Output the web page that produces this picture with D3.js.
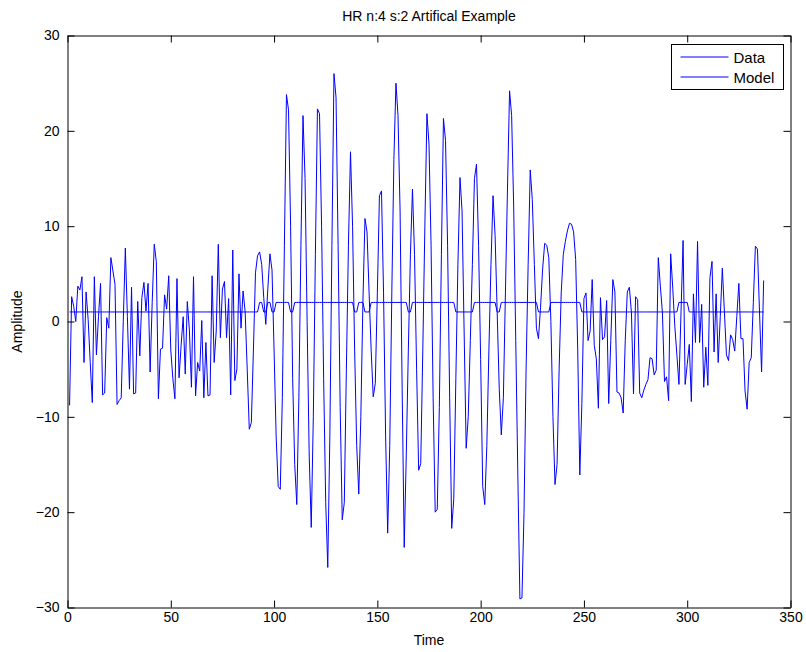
<!DOCTYPE html>
<html>
<head>
<meta charset="utf-8">
<script src="https://cdn.jsdelivr.net/npm/d3@7"></script>
<style>
  body { margin: 0; background: #fff; }
  text { font-family: 'Liberation Sans', Arial, Helvetica, sans-serif; }
</style>
</head>
<body>
<div id="chart"></div>
<script>
const width = 806;
const height = 652;
const margin = {left: 67.5, right: 15.5, top: 35.5, bottom: 44.5};

const chartTitle = 'HR n:4 s:2 Artifical Example';
const xLabel = 'Time';
const yLabel = 'Amplitude';
const seriesNames = ['Data', 'Model'];

const xTicks = [0, 50, 100, 150, 200, 250, 300, 350];
const yTicks = [-30, -20, -10, 0, 10, 20, 30];

// observed signal, one value per sample (samples 1..337)
const dataValues = [
  -8.8, 2.6, 1.6, 0.0, 3.7, 3.3, 4.7, -4.3, 3.1, 0.2,
  -4.3, -8.5, 4.7, -3.5, 0.5, 4.0, -7.7, -7.5, 0.4, -0.7,
  6.7, 5.3, 3.9, -8.7, -8.3, -8.0, 0.0, 7.7, 0.5, -7.1,
  3.6, -7.6, -7.5, 2.1, -3.6, 2.5, 4.1, 1.1, 4.0, -5.3,
  2.0, 8.1, 6.3, -8.1, -2.9, -2.8, 2.8, 1.3, 4.8, -3.0,
  -6.0, -8.1, 4.5, -5.9, -2.5, 0.5, -5.5, 2.1, -0.9, -6.9,
  4.7, -7.8, -4.3, -5.2, 0.1, -8.0, -2.2, -7.8, -7.7, 4.8,
  -4.3, -1.0, 8.1, -1.7, 3.4, 4.2, -1.7, 2.4, -7.7, 7.5,
  -6.2, -5.0, 5.0, -0.7, 3.2, 1.0, -5.0, -11.3, -10.6, -3.0,
  5.1, 6.9, 7.3, 6.0, 2.5, -0.3, 3.5, 7.1, 5.4, -3.0,
  -12.0, -17.3, -17.6, -8.0, 8.0, 23.8, 22.2, 10.0, -6.0, -15.0,
  -19.2, -8.0, 8.0, 21.6, 15.0, 0.0, -14.0, -21.6, -10.0, 7.0,
  22.3, 21.8, 10.0, -6.0, -19.0, -25.8, -12.0, 8.0, 26.0, 23.5,
  8.0, -9.0, -20.8, -19.0, -5.0, 8.0, 17.8, 10.0, -3.0, -13.0,
  -18.1, -10.0, 2.0, 10.8, 9.4, 3.0, -3.0, -7.9, -6.5, 3.0,
  13.2, 13.7, 3.0, -12.0, -22.2, -13.0, 3.0, 17.0, 25.0, 21.6,
  11.6, -7.0, -23.7, -14.0, -3.0, 7.0, 13.9, 7.0, -5.0, -15.6,
  -14.9, -3.0, 10.0, 21.8, 18.6, 8.0, -8.0, -20.0, -19.7, -9.0,
  7.0, 21.3, 19.0, 8.0, -8.0, -21.7, -18.6, -6.0, 6.0, 15.1,
  11.6, -1.0, -13.3, -10.0, -2.0, 6.0, 15.0, 16.5, 8.0, -4.0,
  -17.3, -19.2, -13.0, -3.0, 6.0, 13.2, 9.0, 1.0, -7.0, -11.9,
  -8.0, 3.0, 14.0, 24.2, 21.6, 12.0, -2.0, -16.0, -29.1, -29.0,
  -20.0, -5.0, 6.0, 15.9, 12.8, 6.0, -0.7, -1.8, 1.5, 5.5,
  8.2, 8.0, 6.7, 0.0, -10.0, -17.1, -15.0, -5.0, 3.0, 7.0,
  8.4, 9.5, 10.3, 10.2, 9.4, 6.5, -3.0, -16.1, -8.6, 2.4,
  3.0, -2.0, -1.0, 4.4, -2.5, -3.9, -9.1, 2.5, -1.9, -1.6,
  2.2, -8.6, -2.0, 4.4, 3.1, -7.4, -7.5, -8.0, -9.6, -2.0,
  3.1, 3.6, 0.9, -7.6, 2.6, 2.3, -7.5, -8.0, -7.2, -6.6,
  -6.1, -3.8, -3.9, -5.6, -5.1, 6.7, 3.7, 0.9, -6.3, -5.8,
  -8.3, 7.1, 3.5, -0.5, -3.5, -6.6, 1.0, 8.5, -6.6, -4.5,
  -2.4, -8.4, 2.9, -2.2, 8.4, -2.2, 1.8, -6.9, -2.7, -6.7,
  4.6, 6.3, -3.2, 2.9, -4.3, 0.5, 5.6, 1.0, -3.5, -4.1,
  -1.4, -1.9, -3.1, 0.5, 4.0, -1.8, -1.8, -7.3, -9.2, -4.3,
  -3.8, 2.0, 7.9, 7.6, 1.0, -5.3, 4.3
];

// model state as runs: level held for that many samples
const modelLevels = [1, 2, 1, 2, 1, 2, 1, 2, 1, 2, 1, 2, 1, 2, 1, 2, 1, 2, 1, 2, 1, 2, 1];
const modelRunLengths = [92, 2, 2, 2, 2, 7, 2, 29, 2, 3, 3, 18, 2, 21, 9, 11, 2, 18, 6, 15, 47, 5, 37];

const lineColor = '#0000ff';
const tickLength = 7;
const fontSize = '14px';

function buildModel() {
  let values = [];
  modelLevels.forEach(function(level, i) {
    for (let k = 0; k < modelRunLengths[i]; k++) values.push(level);
  });
  return values;
}

function drawChart() {
  const modelValues = buildModel();
  const data = dataValues.map(function(v, i) { return {t: i + 1, v: v}; });
  const model = modelValues.map(function(v, i) { return {t: i + 1, v: v}; });

  const svg = d3.select('#chart')
    .append('svg')
    .attr('width', width)
    .attr('height', height);

  svg.append('rect')
    .attr('width', width)
    .attr('height', height)
    .attr('fill', '#fff');

  const x = d3.scaleLinear()
    .domain([0, 350])
    .range([margin.left, width - margin.right]);

  const y = d3.scaleLinear()
    .domain([-30, 30])
    .range([height - margin.bottom, margin.top]);

  // plot lines
  const line = d3.line()
    .x(function(d) { return x(d.t); })
    .y(function(d) { return y(d.v); });

  const plot = svg.append('g');

  plot.append('path')
    .datum(data)
    .attr('fill', 'none')
    .attr('stroke', lineColor)
    .attr('stroke-width', 1)
    .attr('d', line);

  plot.append('path')
    .datum(model)
    .attr('fill', 'none')
    .attr('stroke', lineColor)
    .attr('stroke-width', 1)
    .attr('d', line);

  // axes, ticks point inwards like matlab
  const bottom = svg.append('g')
    .attr('transform', 'translate(0,' + (height - margin.bottom) + ')')
    .call(d3.axisBottom(x).tickValues(xTicks).tickSizeInner(-tickLength).tickSizeOuter(0).tickPadding(5));

  const left = svg.append('g')
    .attr('transform', 'translate(' + margin.left + ',0)')
    .call(d3.axisLeft(y).tickValues(yTicks).tickSizeInner(-tickLength).tickSizeOuter(0).tickPadding(8));

  const top = svg.append('g')
    .attr('transform', 'translate(0,' + margin.top + ')')
    .call(d3.axisTop(x).tickValues(xTicks).tickSizeInner(-tickLength).tickSizeOuter(0).tickFormat(''));

  const right = svg.append('g')
    .attr('transform', 'translate(' + (width - margin.right) + ',0)')
    .call(d3.axisRight(y).tickValues(yTicks).tickSizeInner(-tickLength).tickSizeOuter(0).tickFormat(''));

  [bottom, left, top, right].forEach(function(g) {
    g.selectAll('path, line').attr('stroke', '#000');
    g.selectAll('text')
      .attr('fill', '#000')
      .style('font-size', fontSize);
  });

  // labels
  const cx = (margin.left + width - margin.right) / 2;

  svg.append('text')
    .attr('x', cx)
    .attr('y', 21)
    .attr('text-anchor', 'middle')
    .style('font-size', fontSize)
    .text(chartTitle);

  svg.append('text')
    .attr('x', cx)
    .attr('y', 645)
    .attr('text-anchor', 'middle')
    .style('font-size', fontSize)
    .text(xLabel);

  svg.append('text')
    .attr('transform', 'translate(22,' + y(0) + ') rotate(-90)')
    .attr('text-anchor', 'middle')
    .style('font-size', fontSize)
    .text(yLabel);

  // legend
  const legend = svg.append('g')
    .attr('transform', 'translate(671.5,44.5)');

  legend.append('rect')
    .attr('width', 112)
    .attr('height', 45)
    .attr('fill', '#fff')
    .attr('stroke', '#000');

  const item = legend.selectAll('.item')
    .data(seriesNames)
    .enter()
    .append('g')
    .attr('class', 'item')
    .attr('transform', function(d, i) { return 'translate(0,' + (12.5 + i * 20) + ')'; });

  item.append('line')
    .attr('x1', 9)
    .attr('x2', 57)
    .attr('stroke', lineColor);

  item.append('text')
    .attr('x', 62)
    .attr('y', 5.5)
    .style('font-size', '15px')
    .text(function(d) { return d; });
}

drawChart();
</script>
</body>
</html>
